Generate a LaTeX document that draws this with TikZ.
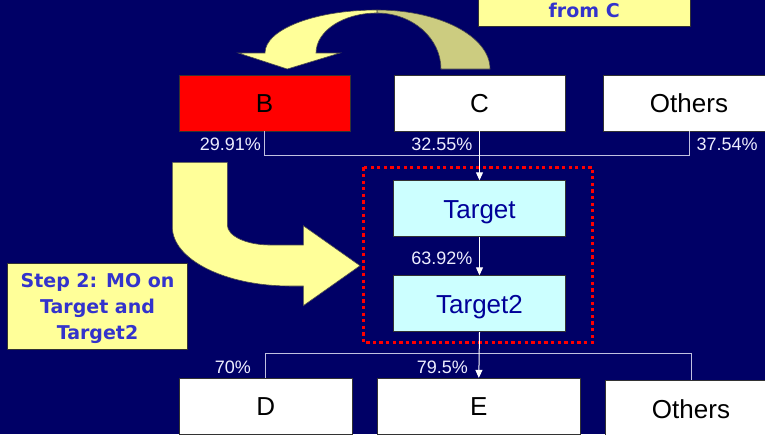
\documentclass[tikz,border=0pt]{standalone}
\usepackage{fontspec}
\setmainfont{Liberation Sans}
\newfontfamily\callfont{DejaVu Sans}
\usetikzlibrary{arrows.meta}
\definecolor{navybg}{HTML}{000066}
\definecolor{pale}{HTML}{FFFF99}
\definecolor{backband}{HTML}{CCCC80}
\definecolor{aqua}{HTML}{CCFFFF}
\definecolor{ink}{HTML}{000099}
\definecolor{callink}{HTML}{3333CC}
\definecolor{linkcol}{HTML}{C0C0E0}
\definecolor{pctcol}{HTML}{EEEEFF}
\tikzset{
  box/.style={draw=black!80, line width=0.8pt, inner sep=0pt, minimum height=56pt,
    text height=19pt, text depth=0pt, font=\fontsize{26}{30}\selectfont},
  pct/.style={text=pctcol, inner sep=0pt, font=\fontsize{18}{20}\selectfont},
  callout/.style={draw=black!80, fill=pale, line width=0.8pt, text=callink, inner sep=0pt,
    font=\callfont\bfseries\fontsize{19}{26}\selectfont},
  link/.style={draw=linkcol, line width=1pt},
  flow/.style={draw=white, line width=1pt, -{Triangle[length=8pt,width=7pt]}},
  bigarrow/.style={draw=black!70, line width=0.6pt},
}
\begin{document}
\begin{tikzpicture}[x=1pt,y=-1pt]
\clip (0,0) rectangle (765,434);
\fill[navybg] (0,0) rectangle (765,434);

% curved arrow from C over to B
\filldraw[bigarrow, fill=backband] (377,10) .. controls (439.4,10) and (490,36.4) .. (490,69)
  -- (441,69) .. controls (441,38.1) and (412.3,13) .. (377,13) -- cycle;
\filldraw[bigarrow, fill=pale] (377,10) .. controls (315.1,10) and (265,29.3) .. (265,53)
  -- (238.3,53) -- (287.3,69) -- (340,53) -- (316,53)
  .. controls (316,30.9) and (343.3,13) .. (377,13) -- cycle;

% bent arrow towards the targets
\filldraw[bigarrow, fill=pale] (172.3,162.3) -- (227.3,162.3) -- (227.3,225)
  .. controls (227.3,236) and (246.4,245) .. (270,245) -- (303.3,245) -- (303.3,225.7)
  -- (360,265.7) -- (303.3,305.7) -- (303.3,286) -- (290,286)
  .. controls (225,286) and (172.3,259.5) .. (172.3,226.7) -- cycle;

% callouts
\node[callout, anchor=base, minimum width=211.7pt, text height=60pt, text depth=8.7pt] (note1) at (584.2,17.3) {from C};
\node[callout, align=center, minimum width=180.4pt, minimum height=86pt, text depth=0pt] (note2) at (97.5,306.3)
  {Step 2: MO on\\Target and\\Target2};

% top row
\node[box, fill=red, minimum width=171pt] (B) at (264.5,103) {B};
\node[box, fill=white, minimum width=171pt] (C) at (479.5,103) {C};
\node[box, fill=white, minimum width=172pt] (OthersT) at (689,103) {Others};

% targets
\node[box, fill=aqua, text=ink, minimum width=172pt] (Tgt) at (479.5,208.7) {Target};
\node[box, fill=aqua, text=ink, minimum width=172pt] (Tgt2) at (479.5,303.7) {Target2};
\draw[red, line width=3pt, dash pattern=on 3.3pt off 3.3pt] (363,167.3) rectangle (592.7,342.3);

% bottom row
\node[box, fill=white, minimum width=172.5pt] (D) at (265.8,406.3) {D};
\node[box, fill=white, minimum width=202.4pt] (E) at (478.8,406.3) {E};
\node[box, fill=white, minimum width=172pt] (OthersB) at (691,408.7) {Others};

% connectors
\draw[link] (B.south) -- ++(0,24) -| (OthersT.south);
\draw[link] (D.north) -- ++(0,-24.3) -| (OthersB.north);
\draw[flow] (C.south) -- (Tgt.north);
\draw[flow] (Tgt.south) -- (Tgt2.north);
\draw[flow] (Tgt2.south) -- (E.north);

% shares
\node[pct, anchor=base east] (pB) at (261,150) {29.91\%};
\node[pct, anchor=base east] (pC) at (472.5,150) {32.55\%};
\node[pct, anchor=base west] (pO) at (696.5,150) {37.54\%};
\node[pct, anchor=base east] (pT) at (472.5,264) {63.92\%};
\node[pct, anchor=base east] (pD) at (251,373.3) {70\%};
\node[pct, anchor=base east] (pE) at (468,373.3) {79.5\%};
\end{tikzpicture}
\end{document}
